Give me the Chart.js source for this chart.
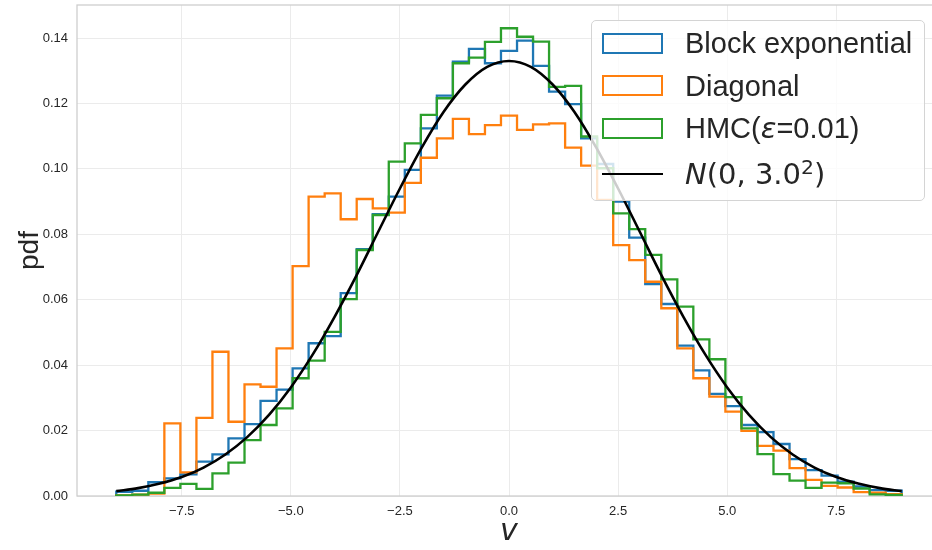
<!DOCTYPE html>
<html>
<head>
<meta charset="utf-8">
<script src="https://cdn.jsdelivr.net/npm/chart.js@4.4.1/dist/chart.umd.min.js"></script>
<style>
html, body { margin: 0; padding: 0; overflow: hidden; background: #fff; }
#wrap { position: relative; width: 950px; height: 550px; }
#legend { position: absolute; left: 591px; top: 20px; width: 334px; height: 181px; box-sizing: border-box;
  border: 1px solid #d4d4d4; border-radius: 5px; background: rgba(255,255,255,0.8); }
.patch { position: absolute; left: 10px; width: 61px; height: 21px; box-sizing: border-box; border: 2.5px solid; }
.lline { position: absolute; left: 10px; width: 61px; height: 0; border-top: 2.6px solid #000; }
.ltext { position: absolute; left: 93px; font: 29px/29px 'Liberation Sans', Arial, sans-serif; color: #262626; white-space: nowrap; }
.math { font-family: 'DejaVu Sans', sans-serif; }
.it { font-style: italic; }
sup.s { font-size: 0.7em; vertical-align: baseline; position: relative; top: -0.48em; }
</style>
</head>
<body>
<div id="wrap">
  <canvas id="histChart" width="950" height="550"></canvas>
  <div id="legend"></div>
</div>
<script>
// bin edges shared by the three histograms (49 bins)
const binEdges = [-9.000, -8.633, -8.265, -7.898, -7.531, -7.163, -6.796, -6.429, -6.061, -5.694,
  -5.327, -4.959, -4.592, -4.224, -3.857, -3.490, -3.122, -2.755, -2.388, -2.020,
  -1.653, -1.286, -0.918, -0.551, -0.184, 0.184, 0.551, 0.918, 1.286, 1.653,
  2.020, 2.388, 2.755, 3.122, 3.490, 3.857, 4.224, 4.592, 4.959, 5.327,
  5.694, 6.061, 6.429, 6.796, 7.163, 7.531, 7.898, 8.265, 8.633, 9.000];

const blockExp = [0.0013, 0.0016, 0.0042, 0.0054, 0.0066, 0.0105, 0.0127, 0.0176, 0.0220, 0.0291,
  0.0325, 0.0390, 0.0467, 0.0489, 0.0620, 0.0755, 0.0862, 0.0915, 0.0997, 0.1124,
  0.1224, 0.1328, 0.1367, 0.1323, 0.1361, 0.1392, 0.1315, 0.1236, 0.1198, 0.1093,
  0.1015, 0.0900, 0.0790, 0.0648, 0.0587, 0.0460, 0.0384, 0.0312, 0.0275, 0.0217,
  0.0195, 0.0159, 0.0113, 0.0079, 0.0062, 0.0044, 0.0029, 0.0018, 0.0016];

const diagonal = [0.0002, 0.0004, 0.0007, 0.0222, 0.0072, 0.0239, 0.0441, 0.0227, 0.0341, 0.0334,
  0.0451, 0.0703, 0.0915, 0.0925, 0.0846, 0.0908, 0.0879, 0.0866, 0.0957, 0.1034,
  0.1093, 0.1153, 0.1106, 0.1134, 0.1163, 0.1119, 0.1136, 0.1139, 0.1065, 0.1010,
  0.0905, 0.0767, 0.0721, 0.0655, 0.0574, 0.0451, 0.0360, 0.0304, 0.0258, 0.0199,
  0.0153, 0.0139, 0.0085, 0.0049, 0.0031, 0.0026, 0.0012, 0.0010, 0.0006];

const hmc = [0.0002, 0.0004, 0.0010, 0.0025, 0.0037, 0.0022, 0.0069, 0.0102, 0.0171, 0.0217,
  0.0268, 0.0360, 0.0414, 0.0502, 0.0602, 0.0752, 0.0859, 0.1022, 0.1078, 0.1165,
  0.1216, 0.1323, 0.1340, 0.1388, 0.1430, 0.1404, 0.1389, 0.1251, 0.1254, 0.1099,
  0.1002, 0.0864, 0.0816, 0.0737, 0.0662, 0.0579, 0.0479, 0.0418, 0.0302, 0.0207,
  0.0128, 0.0067, 0.0047, 0.0025, 0.0041, 0.0039, 0.0023, 0.0005, 0.0003];

// reference density curve
const normalX = [-9, -8.5, -8, -7.5, -7, -6.5, -6, -5.5, -5, -4.5, -4, -3.5, -3, -2.5, -2, -1.5, -1, -0.5,
  0, 0.5, 1, 1.5, 2, 2.5, 3, 3.5, 4, 4.5, 5, 5.5, 6, 6.5, 7, 7.5, 8, 8.5, 9];
const normalPdf = [0.0015, 0.0024, 0.0038, 0.0058, 0.0087, 0.0127, 0.0180, 0.0248, 0.0332, 0.0432, 0.0547,
  0.0673, 0.0807, 0.0940, 0.1065, 0.1174, 0.1258, 0.1312, 0.1330, 0.1312, 0.1258, 0.1174, 0.1065,
  0.0940, 0.0807, 0.0673, 0.0547, 0.0432, 0.0332, 0.0248, 0.0180, 0.0127, 0.0087, 0.0058, 0.0038,
  0.0024, 0.0015];

const xTicks = [-7.5, -5.0, -2.5, 0.0, 2.5, 5.0, 7.5];
const yTicks = [0.00, 0.02, 0.04, 0.06, 0.08, 0.10, 0.12, 0.14];

const legendItems = [
  { color: '#1f77b4', html: 'Block exponential' },
  { color: '#ff7f0e', html: 'Diagonal' },
  { color: '#2ca02c', html: 'HMC(<span class="math it">\u03b5</span>=0.01)' },
  { color: '#000000', html: '<span class="math"><span class="it">N</span>(0, 3.0<sup class="s">2</sup>)</span>', line: true }
];

// histtype='step' outline: up at first edge, flat tops, down at last edge
function stepOutline(edges, heights) {
  const pts = [{ x: edges[0], y: 0 }];
  heights.forEach((h, i) => pts.push({ x: edges[i], y: h }));
  pts.push({ x: edges[edges.length - 1], y: 0 });
  return pts;
}

const framePlugin = {
  id: 'frame',
  beforeDatasetsDraw(chart) {
    const { ctx, chartArea: a } = chart;
    ctx.save();
    ctx.strokeStyle = '#cccccc';
    ctx.lineWidth = 1.25;
    ctx.strokeRect(a.left, a.top, a.right - a.left, a.bottom - a.top);
    ctx.restore();
  }
};

const tickFont = { family: "'Liberation Sans', Arial, sans-serif", size: 13 };

new Chart(document.getElementById('histChart'), {
  type: 'line',
  data: {
    datasets: [
      { label: 'Block exponential', data: stepOutline(binEdges, blockExp), borderColor: '#1f77b4', order: 3 },
      { label: 'Diagonal', data: stepOutline(binEdges, diagonal), borderColor: '#ff7f0e', order: 2 },
      { label: 'HMC(\u03b5=0.01)', data: stepOutline(binEdges, hmc), borderColor: '#2ca02c', order: 1 },
      {
        label: 'N(0, 3.0\u00b2)',
        data: normalX.map((x, i) => ({ x: x, y: normalPdf[i] })),
        borderColor: '#000000', borderWidth: 2.6, stepped: false, cubicInterpolationMode: 'monotone', order: 0
      }
    ]
  },
  options: {
    responsive: false,
    animation: false,
    devicePixelRatio: 1,
    layout: { padding: { left: 0, right: 9, top: 5, bottom: 0 } },
    elements: {
      line: { borderWidth: 2.3, stepped: true, fill: false, tension: 0 },
      point: { radius: 0 }
    },
    plugins: {
      legend: { display: false },
      tooltip: { enabled: false }
    },
    scales: {
      x: {
        type: 'linear',
        min: -9.9,
        max: 9.9,
        afterBuildTicks: scale => { scale.ticks = xTicks.map(v => ({ value: v })); },
        afterFit: scale => { scale.height = 54; scale.paddingLeft = 0; scale.paddingRight = 0; },
        grid: { color: '#ebebeb', lineWidth: 1, drawTicks: false },
        border: { display: false },
        ticks: {
          font: tickFont, color: '#262626', padding: 8, maxRotation: 0,
          callback: v => v.toFixed(1).replace('-', '\u2212')
        },
        title: {
          display: true, text: 'v', color: '#262626',
          font: { family: "'DejaVu Sans', sans-serif", size: 30, style: 'italic' },
          padding: { top: 0, bottom: 0 }
        }
      },
      y: {
        min: 0,
        max: 0.1501,
        afterBuildTicks: scale => { scale.ticks = yTicks.map(v => ({ value: v })); },
        afterFit: scale => { scale.width = 77; scale.paddingTop = 0; scale.paddingBottom = 0; },
        grid: { color: '#ebebeb', lineWidth: 1, drawTicks: false },
        border: { display: false },
        ticks: { font: tickFont, color: '#262626', padding: 9, callback: v => v.toFixed(2) },
        title: {
          display: true, text: 'pdf', color: '#262626',
          font: { family: "'Liberation Sans', Arial, sans-serif", size: 28 },
          padding: { top: 13, bottom: 0 }
        }
      }
    }
  },
  plugins: [framePlugin]
});

// legend drawn as an overlay box in the upper right
const legendBox = document.getElementById('legend');
const rowTops = [12, 54, 97];
const textTops = [8, 50.5, 93, 139];
legendItems.forEach((item, i) => {
  if (item.line) {
    const ln = document.createElement('div');
    ln.className = 'lline';
    ln.style.top = '152px';
    ln.style.borderTopColor = item.color;
    legendBox.appendChild(ln);
  } else {
    const p = document.createElement('div');
    p.className = 'patch';
    p.style.top = rowTops[i] + 'px';
    p.style.borderColor = item.color;
    legendBox.appendChild(p);
  }
  const t = document.createElement('div');
  t.className = 'ltext';
  t.style.top = textTops[i] + 'px';
  t.innerHTML = item.html;
  legendBox.appendChild(t);
});
</script>
</body>
</html>
